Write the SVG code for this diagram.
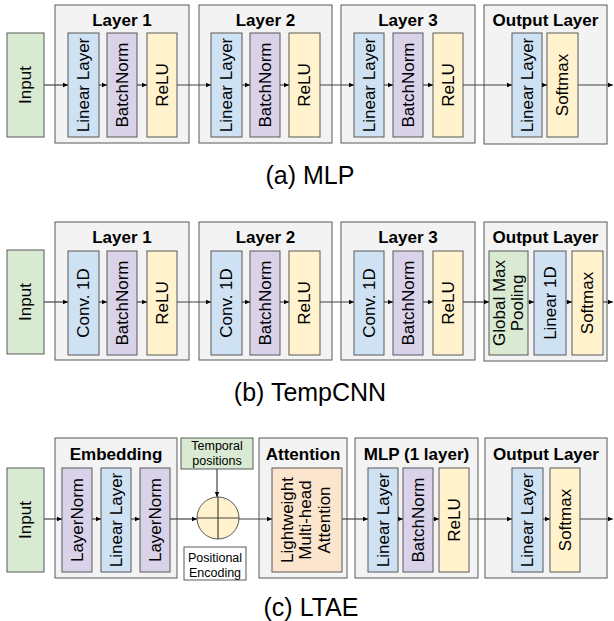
<svg xmlns="http://www.w3.org/2000/svg" width="614" height="621" viewBox="0 0 614 621">
<style>
.grp{fill:#f3f3f3;stroke:#595959;stroke-width:1}
.box{stroke:#595959;stroke-width:1}
.g{fill:#d9ead3}.b{fill:#cfe2f3}.p{fill:#d9d2e9}.y{fill:#fff2cc}.o{fill:#fce5cd}.w{fill:#ffffff}
.t{font-family:"Liberation Sans",Arial,sans-serif;font-size:17px;fill:#000;text-anchor:middle}
.h{font-family:"Liberation Sans",Arial,sans-serif;font-size:17px;font-weight:bold;fill:#000;text-anchor:middle}
.s{font-family:"Liberation Sans",Arial,sans-serif;font-size:12.5px;fill:#000;text-anchor:middle}
.cap{font-family:"Liberation Sans",Arial,sans-serif;font-size:25px;fill:#000;text-anchor:middle}
.ln{stroke:#434343;stroke-width:1.2;fill:none}
</style>
<defs>
<marker id="ah" markerUnits="userSpaceOnUse" markerWidth="6" markerHeight="6" refX="5" refY="3" orient="auto">
<path d="M0,0.8 L5,3 L0,5.2 Z" fill="#000"/>
</marker>
</defs>

<!-- (a) MLP -->
<g id="a-input"><rect class="box g" x="7" y="33" width="37" height="104"/><text class="t" transform="translate(25.5,85) rotate(-90)" dy="0.35em">Input</text></g>
<g id="a-layer1"><rect class="grp" x="55" y="5" width="134" height="138"/><text class="h" x="122" y="26">Layer 1</text>
<rect class="box b" x="68" y="33" width="31" height="104"/><text class="t" transform="translate(83.5,85) rotate(-90)" dy="0.35em">Linear Layer</text>
<rect class="box p" x="107" y="33" width="30" height="104"/><text class="t" transform="translate(122,85) rotate(-90)" dy="0.35em">BatchNorm</text>
<rect class="box y" x="147" y="33" width="30" height="104"/><text class="t" transform="translate(162,85) rotate(-90)" dy="0.35em">ReLU</text></g>
<g id="a-layer2"><rect class="grp" x="199" y="5" width="133" height="138"/><text class="h" x="265.5" y="26">Layer 2</text>
<rect class="box b" x="211" y="33" width="31" height="104"/><text class="t" transform="translate(226.5,85) rotate(-90)" dy="0.35em">Linear Layer</text>
<rect class="box p" x="250" y="33" width="30" height="104"/><text class="t" transform="translate(265,85) rotate(-90)" dy="0.35em">BatchNorm</text>
<rect class="box y" x="289" y="33" width="31" height="104"/><text class="t" transform="translate(304.5,85) rotate(-90)" dy="0.35em">ReLU</text></g>
<g id="a-layer3"><rect class="grp" x="341" y="5" width="134" height="138"/><text class="h" x="408" y="26">Layer 3</text>
<rect class="box b" x="354" y="33" width="30" height="104"/><text class="t" transform="translate(369,85) rotate(-90)" dy="0.35em">Linear Layer</text>
<rect class="box p" x="393" y="33" width="30" height="104"/><text class="t" transform="translate(408,85) rotate(-90)" dy="0.35em">BatchNorm</text>
<rect class="box y" x="433" y="33" width="30" height="104"/><text class="t" transform="translate(448,85) rotate(-90)" dy="0.35em">ReLU</text></g>
<g id="a-output"><rect class="grp" x="484" y="5" width="123" height="139"/><text class="h" x="545.5" y="26">Output Layer</text>
<rect class="box b" x="512" y="33" width="30" height="104"/><text class="t" transform="translate(527,85) rotate(-90)" dy="0.35em">Linear Layer</text>
<rect class="box y" x="547" y="33" width="31" height="104"/><text class="t" transform="translate(562.5,85) rotate(-90)" dy="0.35em">Softmax</text></g>
<text class="cap" x="310" y="184">(a) MLP</text>

<!-- (b) TempCNN -->
<g id="b-input"><rect class="box g" x="7" y="250" width="37" height="104"/><text class="t" transform="translate(25.5,302) rotate(-90)" dy="0.35em">Input</text></g>
<g id="b-layer1"><rect class="grp" x="55" y="222" width="134" height="138"/><text class="h" x="122" y="243">Layer 1</text>
<rect class="box b" x="68" y="251" width="31" height="104"/><text class="t" transform="translate(83.5,303) rotate(-90)" dy="0.35em">Conv. 1D</text>
<rect class="box p" x="107" y="251" width="30" height="104"/><text class="t" transform="translate(122,303) rotate(-90)" dy="0.35em">BatchNorm</text>
<rect class="box y" x="147" y="251" width="30" height="104"/><text class="t" transform="translate(162,303) rotate(-90)" dy="0.35em">ReLU</text></g>
<g id="b-layer2"><rect class="grp" x="199" y="222" width="133" height="138"/><text class="h" x="265.5" y="243">Layer 2</text>
<rect class="box b" x="211" y="251" width="31" height="104"/><text class="t" transform="translate(226.5,303) rotate(-90)" dy="0.35em">Conv. 1D</text>
<rect class="box p" x="250" y="251" width="30" height="104"/><text class="t" transform="translate(265,303) rotate(-90)" dy="0.35em">BatchNorm</text>
<rect class="box y" x="289" y="251" width="31" height="104"/><text class="t" transform="translate(304.5,303) rotate(-90)" dy="0.35em">ReLU</text></g>
<g id="b-layer3"><rect class="grp" x="341" y="222" width="134" height="138"/><text class="h" x="408" y="243">Layer 3</text>
<rect class="box b" x="354" y="251" width="30" height="104"/><text class="t" transform="translate(369,303) rotate(-90)" dy="0.35em">Conv. 1D</text>
<rect class="box p" x="393" y="251" width="30" height="104"/><text class="t" transform="translate(408,303) rotate(-90)" dy="0.35em">BatchNorm</text>
<rect class="box y" x="433" y="251" width="30" height="104"/><text class="t" transform="translate(448,303) rotate(-90)" dy="0.35em">ReLU</text></g>
<g id="b-output"><rect class="grp" x="484" y="222" width="123" height="139"/><text class="h" x="545.5" y="243">Output Layer</text>
<rect class="box g" x="489" y="251" width="39" height="104"/><text class="t" transform="translate(508.5,303) rotate(-90)"><tspan x="0" dy="-0.2em">Global Max</tspan><tspan x="0" dy="1.05em">Pooling</tspan></text>
<rect class="box b" x="534" y="251" width="32" height="104"/><text class="t" transform="translate(550,303) rotate(-90)" dy="0.35em">Linear 1D</text>
<rect class="box y" x="572" y="251" width="31" height="104"/><text class="t" transform="translate(587.5,303) rotate(-90)" dy="0.35em">Softmax</text></g>
<text class="cap" x="310" y="401">(b) TempCNN</text>

<!-- (c) LTAE -->
<g id="c-input"><rect class="box g" x="7" y="468" width="37" height="104"/><text class="t" transform="translate(25.5,520) rotate(-90)" dy="0.35em">Input</text></g>
<g id="c-embedding"><rect class="grp" x="55" y="438" width="122" height="140"/><text class="h" x="116" y="460">Embedding</text>
<rect class="box p" x="62" y="468" width="30" height="104"/><text class="t" transform="translate(77,520) rotate(-90)" dy="0.35em">LayerNorm</text>
<rect class="box b" x="101" y="468" width="30" height="104"/><text class="t" transform="translate(116,520) rotate(-90)" dy="0.35em">Linear Layer</text>
<rect class="box p" x="140" y="468" width="30" height="104"/><text class="t" transform="translate(155,520) rotate(-90)" dy="0.35em">LayerNorm</text></g>
<g id="c-temporal"><rect class="box g" x="181" y="438" width="72" height="31"/><text class="s" x="217" y="450">Temporal</text><text class="s" x="217" y="465">positions</text></g>
<g id="c-sum"><circle cx="218" cy="518" r="21" fill="#fff2cc" stroke="#595959" stroke-width="1"/><line class="ln" x1="218" y1="497" x2="218" y2="539"/><line class="ln" x1="197" y1="518" x2="239" y2="518"/></g>
<g id="c-posenc"><rect class="box w" x="184" y="547" width="62" height="33"/><text class="s" x="215" y="562">Positional</text><text class="s" x="215" y="577">Encoding</text></g>
<g id="c-attention"><rect class="grp" x="259" y="438" width="88" height="140"/><text class="h" x="303" y="460">Attention</text>
<rect class="box o" x="272" y="468" width="70" height="104"/><text class="t" transform="translate(307,520) rotate(-90)"><tspan x="0" dy="-0.85em">Lightweight</tspan><tspan x="0" dy="1.1em">Multi-head</tspan><tspan x="0" dy="1.1em">Attention</tspan></text></g>
<g id="c-mlp"><rect class="grp" x="355" y="438" width="123" height="140"/><text class="h" x="416.5" y="460">MLP (1 layer)</text>
<rect class="box b" x="368" y="468" width="30" height="104"/><text class="t" transform="translate(383,520) rotate(-90)" dy="0.35em">Linear Layer</text>
<rect class="box p" x="403" y="468" width="30" height="104"/><text class="t" transform="translate(418,520) rotate(-90)" dy="0.35em">BatchNorm</text>
<rect class="box y" x="439" y="468" width="30" height="104"/><text class="t" transform="translate(454,520) rotate(-90)" dy="0.35em">ReLU</text></g>
<g id="c-output"><rect class="grp" x="485" y="438" width="122" height="140"/><text class="h" x="546" y="460">Output Layer</text>
<rect class="box b" x="512" y="468" width="31" height="104"/><text class="t" transform="translate(527.5,520) rotate(-90)" dy="0.35em">Linear Layer</text>
<rect class="box y" x="550" y="468" width="30" height="104"/><text class="t" transform="translate(565,520) rotate(-90)" dy="0.35em">Softmax</text></g>
<text class="cap" x="311" y="616">(c) LTAE</text>

<g id="connectors" class="ln" marker-end="url(#ah)">
<line x1="44" y1="85" x2="68" y2="85"/><line x1="99" y1="85" x2="107" y2="85"/><line x1="137" y1="85" x2="147" y2="85"/>
<line x1="177" y1="85" x2="211" y2="85"/><line x1="242" y1="85" x2="250" y2="85"/><line x1="280" y1="85" x2="289" y2="85"/>
<line x1="320" y1="85" x2="354" y2="85"/><line x1="384" y1="85" x2="393" y2="85"/><line x1="423" y1="85" x2="433" y2="85"/>
<line x1="463" y1="85" x2="512" y2="85"/><line x1="542" y1="85" x2="547" y2="85"/><line x1="578" y1="85" x2="613" y2="85"/>

<line x1="44" y1="302" x2="68" y2="302"/><line x1="99" y1="302" x2="107" y2="302"/><line x1="137" y1="302" x2="147" y2="302"/>
<line x1="177" y1="302" x2="211" y2="302"/><line x1="242" y1="302" x2="250" y2="302"/><line x1="280" y1="302" x2="289" y2="302"/>
<line x1="320" y1="302" x2="354" y2="302"/><line x1="384" y1="302" x2="393" y2="302"/><line x1="423" y1="302" x2="433" y2="302"/>
<line x1="463" y1="302" x2="489" y2="302"/><line x1="528" y1="302" x2="534" y2="302"/><line x1="566" y1="302" x2="572" y2="302"/><line x1="603" y1="302" x2="613" y2="302"/>

<line x1="44" y1="519" x2="62" y2="519"/><line x1="92" y1="519" x2="101" y2="519"/><line x1="131" y1="519" x2="140" y2="519"/>
<line x1="170" y1="519" x2="197" y2="519"/><line x1="217" y1="469" x2="217" y2="497"/><line x1="239" y1="519" x2="272" y2="519"/>
<line x1="342" y1="519" x2="368" y2="519"/><line x1="398" y1="519" x2="403" y2="519"/><line x1="433" y1="519" x2="439" y2="519"/>
<line x1="469" y1="519" x2="512" y2="519"/><line x1="543" y1="519" x2="550" y2="519"/><line x1="580" y1="519" x2="613" y2="519"/>
</g>
</svg>
